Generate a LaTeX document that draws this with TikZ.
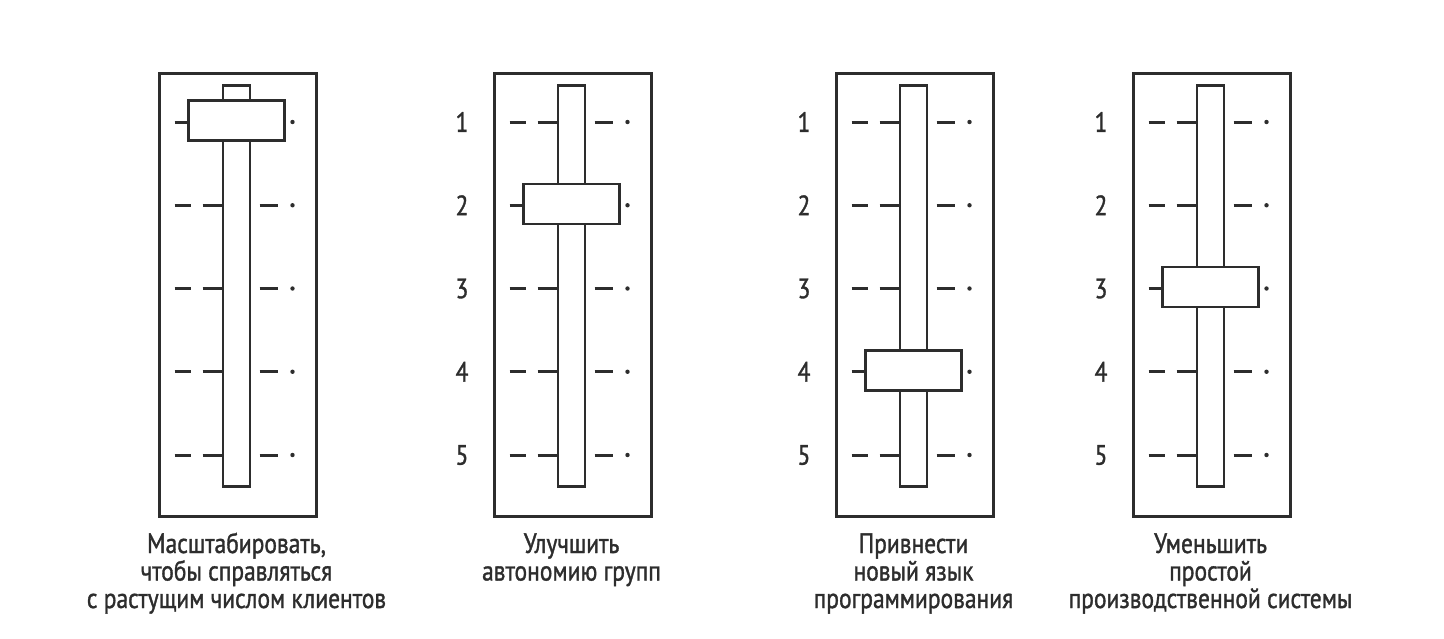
\documentclass[tikz,border=0pt]{standalone}
\usepackage{fontspec}
\setmainfont{PT Sans}[FakeStretch=0.84,FakeBold=1.2]
\definecolor{ink}{RGB}{45,45,45}
\begin{document}
\begin{tikzpicture}[x=1pt,y=-1pt]
\tikzset{
  frame/.style={draw=ink,line width=2.8pt},
  part/.style={draw=ink,fill=white,line width=2.5pt},
  tick/.style={draw=ink,line width=3pt},
  tdot/.style={fill=ink},
  num/.style={text=ink,inner sep=0pt,font=\fontsize{28}{28}\selectfont},
  captxt/.style={text=ink,inner sep=0pt,anchor=base,font=\fontsize{28}{28}\selectfont}
}
\fill[white] (0,0) rectangle (1444,638);
\useasboundingbox (0,0) rectangle (1444,638);
\newcommand\sliderpanel[4]{%
  % #1 frame left, #2 knob row, #3 show numbers (1/0), #4 name
  \pgfmathsetmacro\cx{#1+78.5}
  \node[frame,minimum width=157pt,minimum height=443pt,inner sep=0pt,anchor=north west] (#4frame) at (#1,72) {};
  \foreach \i in {1,...,5}{
    \pgfmathsetmacro\yy{122+83.25*(\i-1)}
    \draw[tick] (\cx-62,\yy) -- (\cx-46,\yy);
    \draw[tick] (\cx-34,\yy) -- (\cx-13.5,\yy);
    \draw[tick] (\cx+23,\yy) -- (\cx+41,\yy);
    \fill[tdot] (\cx+56,\yy) circle (2.2pt);
    \ifnum#3=1 \node[num] (#4n\i) at (#1-31,\yy) {\i};\fi
  }
  \node[part,minimum width=27pt,minimum height=401pt,inner sep=0pt,anchor=north] (#4track) at (\cx,84) {};
  \pgfmathsetmacro\ky{122+83.25*(#2-1)-1.5}
  \node[part,minimum width=96pt,minimum height=40pt,inner sep=0pt] (#4knob) at (\cx,\ky) {};
}
\sliderpanel{158}{1}{0}{a}
\sliderpanel{493}{2}{1}{b}
\sliderpanel{835}{4}{1}{c}
\sliderpanel{1132}{3}{1}{d}
% captions
\node[captxt] (a1) at (236.5,553) {Масштабировать,};
\node[captxt] (a2) at (236.5,580.5) {чтобы справляться};
\node[captxt] (a3) at (236.5,608) {с растущим числом клиентов};
\node[captxt] (b1) at (571.5,553) {Улучшить};
\node[captxt] (b2) at (571.5,580.5) {автономию групп};
\node[captxt] (c1) at (913.5,553) {Привнести};
\node[captxt] (c2) at (913.5,580.5) {новый язык};
\node[captxt] (c3) at (913.5,608) {программирования};
\node[captxt] (d1) at (1210.5,553) {Уменьшить};
\node[captxt] (d2) at (1210.5,580.5) {простой};
\node[captxt] (d3) at (1210.5,608) {производственной системы};
\end{tikzpicture}
\end{document}
